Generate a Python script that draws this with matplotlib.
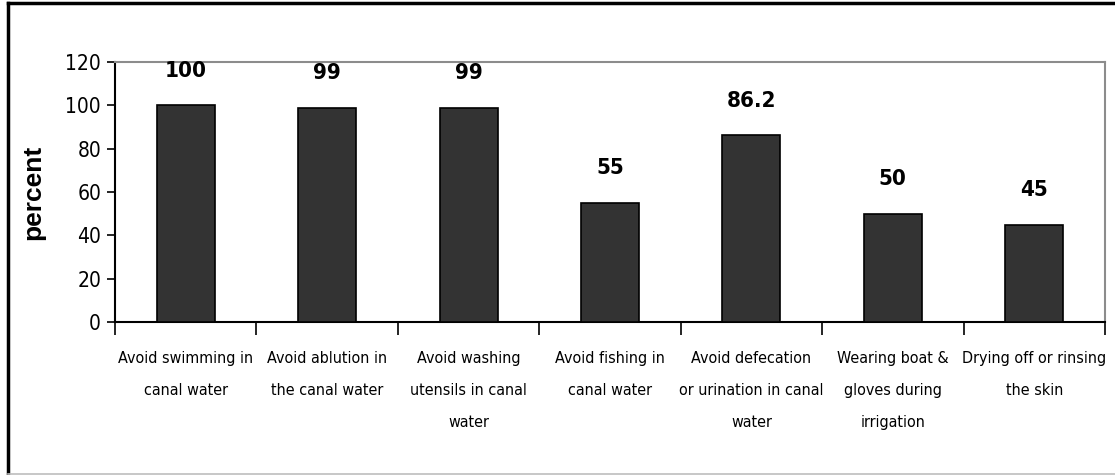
import matplotlib
matplotlib.use("Agg")
import matplotlib.pyplot as plt
from matplotlib.lines import Line2D
import numpy as np

categories = [
    "Avoid swimming in\ncanal water",
    "Avoid ablution in\nthe canal water",
    "Avoid washing\nutensils in canal\nwater",
    "Avoid fishing in\ncanal water",
    "Avoid defecation\nor urination in canal\nwater",
    "Wearing boat &\ngloves during\nirrigation",
    "Drying off or rinsing\nthe skin",
]
values = [100, 99, 99, 55, 86.2, 50, 45]
value_labels = ["100", "99", "99", "55", "86.2", "50", "45"]
y_ticks = [0, 20, 40, 60, 80, 100, 120]

narrow = ["DejaVu Sans"]


def main():
    fig = plt.figure(figsize=(11.15, 4.75), dpi=100)
    ax = fig.add_axes([115 / 1115, 1 - 322 / 475, 990 / 1115, 260 / 475])

    x = np.arange(len(values))
    ax.bar(x, values, width=0.41, color="#333333", edgecolor="black", linewidth=1.2, zorder=3)

    for xi, v, lab in zip(x, values, value_labels):
        ax.annotate(lab, (xi, v), xytext=(0, 25), textcoords="offset points",
                    ha="center", va="center", fontsize=16, fontweight="bold",
                    family=narrow, fontstretch="condensed", annotation_clip=False)

    ax.set_xlim(-0.5, len(values) - 0.5)
    ax.set_ylim(0, 120)
    ax.set_yticks(y_ticks)
    ax.set_yticklabels([str(t) for t in y_ticks], family=narrow, fontsize=15, fontstretch="condensed")
    ax.tick_params(axis="y", direction="out", length=6, width=1.2, pad=4)

    # category boundaries carry the tick marks, names sit between them
    ax.set_xticks(np.arange(-0.5, len(values), 1.0))
    ax.set_xticklabels([])
    ax.tick_params(axis="x", direction="out", length=9, width=1.2)
    ax.set_xticks(x, minor=True)
    ax.set_xticklabels(categories, minor=True, family=narrow, fontstretch="condensed",
                       fontsize=11.5, linespacing=2.4)
    ax.tick_params(axis="x", which="minor", length=0, pad=21)
    for t in ax.get_xticklabels(minor=True):
        t.set_verticalalignment("top")

    ax.set_ylabel("percent", fontsize=19, fontweight="bold", family=["Liberation Sans", "DejaVu Sans"])
    ax.yaxis.set_label_coords(-70 / 990, 0.5)

    ax.spines["left"].set_linewidth(1.5)
    ax.spines["bottom"].set_linewidth(1.5)
    ax.spines["top"].set_color("#8c8c8c")
    ax.spines["right"].set_color("#8c8c8c")
    ax.spines["top"].set_linewidth(1.5)
    ax.spines["right"].set_linewidth(1.5)

    # outer frame of the chart area
    W, H = 1115, 475
    fig.add_artist(Line2D([8 / W, 1.0], [1 - 3 / H, 1 - 3 / H], color="black", lw=2.5))
    fig.add_artist(Line2D([8 / W, 8 / W], [1 - 3 / H, 1 / H], color="black", lw=2.5))
    fig.add_artist(Line2D([8 / W, 1.0], [1.5 / H, 1.5 / H], color="#bdbdbd", lw=1.2))

    fig.savefig("out.png", dpi=100, facecolor="white")


if __name__ == '__main__':
    main()
